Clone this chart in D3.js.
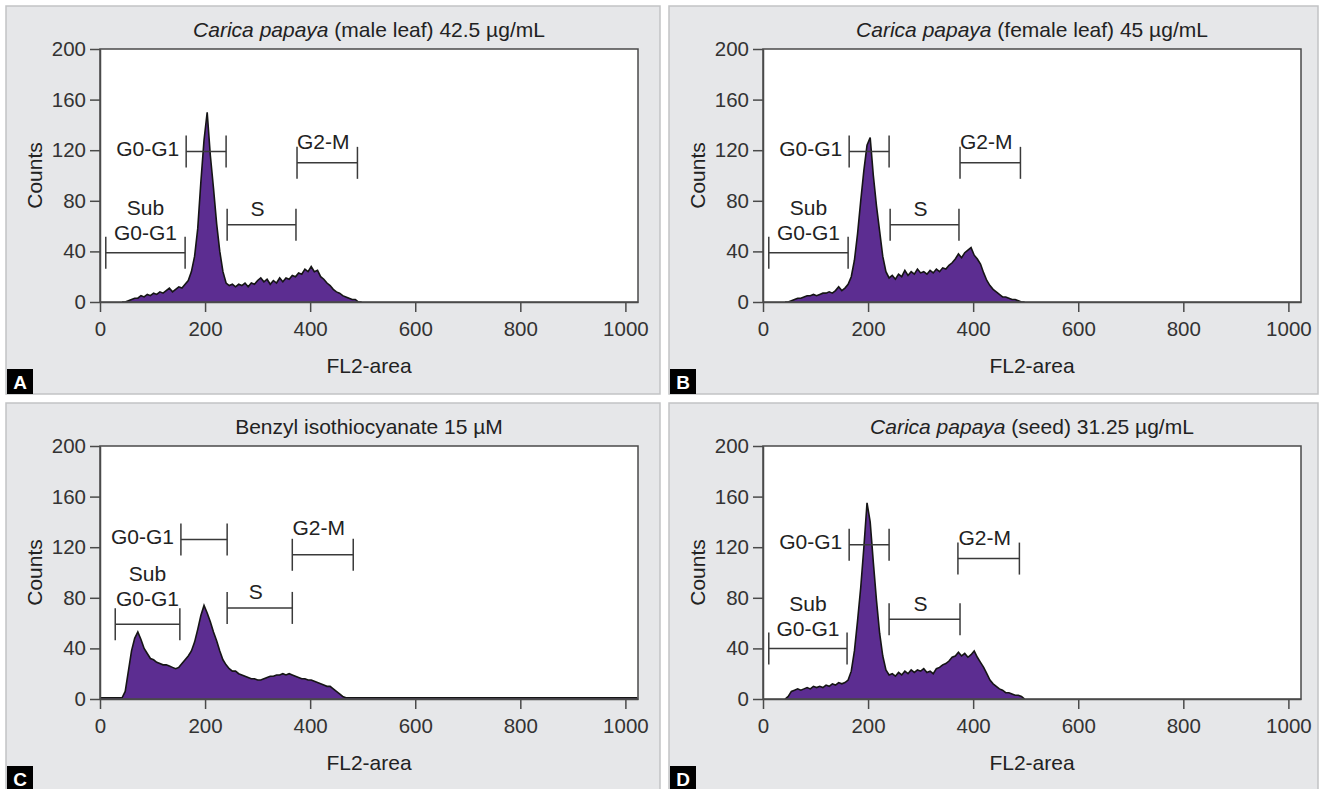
<!DOCTYPE html>
<html>
<head>
<meta charset="utf-8">
<script src="https://cdn.jsdelivr.net/npm/d3@7"></script>
<style>
  body { margin: 0; background: #fff; }
  svg { display: block; font-family: "Liberation Sans", Arial, sans-serif; }
</style>
</head>
<body>
<div id="chart"></div>
<script>
// FL2-area channels (bin centres) that the counts below are read at
var channels = [42, 48, 54, 60, 66, 72, 78, 84, 90, 96, 102, 108, 114, 120, 126, 132, 138, 144, 150, 156, 162,
  168, 174, 180, 186, 192, 198, 204, 210, 216, 222, 228, 234, 240, 246, 252, 258, 264, 270, 276, 282,
  288, 294, 300, 306, 312, 318, 324, 330, 336, 342, 348, 354, 360, 366, 372, 378, 384, 390, 396, 402,
  408, 414, 420, 426, 432, 438, 444, 450, 456, 462, 468, 474, 480, 486, 492, 498];

var countsA = [0, 0, 1, 2, 3, 3, 5, 4, 6, 5, 7, 6, 8, 7, 9, 11, 8, 10, 12, 11, 14,
  17, 24, 36, 58, 95, 128, 150, 116, 90, 62, 40, 24, 15, 13, 14, 12, 14, 13, 15, 12,
  15, 14, 17, 19, 16, 18, 14, 17, 15, 19, 16, 19, 18, 21, 20, 23, 22, 26, 24, 28,
  24, 25, 20, 18, 15, 13, 10, 8, 7, 5, 4, 3, 2, 2, 0, 0];

var countsB = [0, 0, 1, 2, 3, 3, 4, 5, 5, 6, 5, 6, 7, 7, 8, 7, 9, 12, 9, 11, 14,
  20, 33, 54, 80, 104, 124, 130, 100, 76, 56, 36, 24, 19, 21, 18, 22, 20, 25, 21, 24,
  22, 26, 23, 24, 22, 25, 23, 26, 24, 27, 26, 29, 31, 34, 38, 35, 39, 41, 43, 37,
  34, 30, 23, 17, 13, 10, 8, 6, 4, 4, 3, 2, 2, 1, 0, 0];

var countsC = [1, 6, 22, 38, 48, 53, 47, 40, 36, 32, 31, 29, 28, 27, 27, 26, 25, 24, 25, 28, 31,
  34, 38, 45, 55, 66, 74, 68, 61, 53, 46, 38, 31, 27, 24, 22, 22, 20, 19, 18, 17,
  16, 16, 15, 15, 16, 17, 18, 18, 19, 19, 20, 19, 20, 19, 18, 17, 16, 16, 15, 15,
  14, 13, 12, 11, 10, 10, 8, 6, 4, 2, 1, 1, 1, 1, 1, 1];

var countsD = [0, 2, 6, 7, 8, 7, 8, 9, 8, 10, 9, 10, 9, 11, 10, 12, 11, 13, 12, 13, 15,
  22, 38, 62, 88, 120, 155, 140, 108, 78, 52, 34, 23, 19, 20, 18, 21, 19, 22, 20, 23,
  21, 23, 22, 24, 21, 22, 20, 24, 25, 27, 28, 30, 33, 34, 37, 34, 36, 33, 35, 38,
  33, 29, 25, 20, 15, 12, 10, 8, 7, 5, 5, 4, 3, 3, 2, 0];

// background count along the whole axis (only panel C shows one)
var backgroundCounts = [0, 0, 1, 0];

// gates: [from channel, to channel, count level]
var gateNames = [["Sub", "G0-G1"], ["G0-G1"], ["S"], ["G2-M"]];
var gatesA = [[11, 162, 39], [164, 240, 119], [242, 373, 61], [375, 490, 110]];
var gatesB = [[11, 162, 39], [164, 240, 119], [242, 373, 61], [375, 490, 110]];
var gatesC = [[29, 152, 59], [154, 242, 126], [242, 366, 72], [366, 482, 114]];
var gatesD = [[11, 160, 40], [164, 240, 122], [240, 375, 63], [371, 488, 111]];

var panelLetters = ["A", "B", "C", "D"];
var titleItalic = ["Carica papaya", "Carica papaya", "", "Carica papaya"];
var titleRest = [" (male leaf) 42.5 µg/mL", " (female leaf) 45 µg/mL", "Benzyl isothiocyanate 15 µM", " (seed) 31.25 µg/mL"];

var xTicks = [0, 200, 400, 600, 800, 1000];
var yTicks = [0, 40, 80, 120, 160, 200];

var svgWidth = 1321;
var svgHeight = 789;

var boxes = [
  { x: 6, y: 6, w: 654, h: 388 },
  { x: 669, y: 6, w: 649, h: 388 },
  { x: 6, y: 403, w: 654, h: 388 },
  { x: 669, y: 403, w: 649, h: 388 }
];
var margin = { top: 43, left: 94 };
var width = 538;
var height = 253;
var fontSize = "21px";

var allCounts = [countsA, countsB, countsC, countsD];
var allGates = [gatesA, gatesB, gatesC, gatesD];
var labelLift = [0, 0, 6, 0];

var svg = d3.select("#chart")
  .append("svg")
  .attr("width", svgWidth)
  .attr("height", svgHeight);

var xScale = d3.scaleLinear().domain([0, 1024]).range([0, width]);
var yScale = d3.scaleLinear().domain([0, 200]).range([height, 0]);

boxes.forEach(function(box, p) {
  var panel = svg.append("g")
    .attr("transform", `translate(${box.x}, ${box.y})`);

  panel.append("rect")
    .attr("x", 0).attr("y", 0)
    .attr("width", box.w).attr("height", box.h)
    .attr("fill", "#e6e7e9")
    .attr("stroke", "#c2c3c5")
    .attr("stroke-width", 1.5);

  var chartGroup = panel.append("g")
    .attr("transform", `translate(${margin.left}, ${margin.top})`);

  chartGroup.append("rect")
    .attr("width", width).attr("height", height)
    .attr("fill", "#fff");

  // histogram
  var bg = backgroundCounts[p];
  var pts = channels.map(function(c, i) { return [c, Math.max(allCounts[p][i], bg)]; });
  if (bg > 0) {
    pts.unshift([0, bg]);
    pts.push([1023, bg]);
  }

  var clipId = "clip" + p;
  chartGroup.append("clipPath").attr("id", clipId)
    .append("rect").attr("width", width).attr("height", height);

  var area = d3.area()
    .x(d => xScale(d[0]))
    .y0(yScale(0))
    .y1(d => yScale(d[1]));
  var line = d3.line()
    .x(d => xScale(d[0]))
    .y(d => yScale(d[1]));

  chartGroup.append("path")
    .datum(pts)
    .attr("clip-path", `url(#${clipId})`)
    .attr("fill", "#5c2d91")
    .attr("d", area);

  chartGroup.append("path")
    .datum(pts)
    .attr("clip-path", `url(#${clipId})`)
    .attr("fill", "none")
    .attr("stroke", "#151515")
    .attr("stroke-width", 1.6)
    .attr("stroke-linejoin", "miter")
    .attr("d", line);

  // frame
  chartGroup.append("rect")
    .attr("width", width).attr("height", height)
    .attr("fill", "none")
    .attr("stroke", "#4a4a4a")
    .attr("stroke-width", 1.5);

  // axes
  var bottomAxis = d3.axisBottom(xScale).tickValues(xTicks).tickFormat(d3.format("d"))
    .tickSize(10).tickSizeOuter(0).tickPadding(9);
  var leftAxis = d3.axisLeft(yScale).tickValues(yTicks).tickFormat(d3.format("d"))
    .tickSize(10).tickSizeOuter(0).tickPadding(4);

  var gx = chartGroup.append("g")
    .attr("transform", `translate(0, ${height})`)
    .call(bottomAxis);
  var gy = chartGroup.append("g")
    .call(leftAxis);

  [gx, gy].forEach(function(g) {
    g.selectAll("path").attr("stroke", "#4a4a4a").attr("stroke-width", 1.5);
    g.selectAll("line").attr("stroke", "#4a4a4a").attr("stroke-width", 1.5);
    g.selectAll("text")
      .attr("fill", "#333")
      .style("font-size", "20.5px")
      .style("font-family", "'Liberation Sans', Arial, sans-serif");
  });

  // gates
  var lift = labelLift[p];
  allGates[p].forEach(function(gate, k) {
    var x0 = xScale(gate[0]);
    var x1 = xScale(gate[1]);
    var yl = yScale(gate[2]);
    var gg = chartGroup.append("g")
      .attr("stroke", "#3a3a3a")
      .attr("stroke-width", 1.5);
    gg.append("line").attr("x1", x0).attr("x2", x1).attr("y1", yl).attr("y2", yl);
    gg.append("line").attr("x1", x0).attr("x2", x0).attr("y1", yl - 16).attr("y2", yl + 16);
    gg.append("line").attr("x1", x1).attr("x2", x1).attr("y1", yl - 16).attr("y2", yl + 16);

    var names = gateNames[k];
    var label = chartGroup.append("text")
      .attr("fill", "#222")
      .style("font-size", fontSize);
    if (k === 0) {
      label.attr("text-anchor", "middle");
      label.append("tspan").attr("x", (x0 + x1) / 2).attr("y", yl - 37.5 - lift).text(names[0]);
      label.append("tspan").attr("x", (x0 + x1) / 2).attr("y", yl - 12.5 - lift).text(names[1]);
    } else if (k === 1) {
      label.attr("text-anchor", "end")
        .attr("x", x0 - 7)
        .attr("y", yl + 4.5)
        .text(names[0]);
    } else if (k === 2) {
      label.attr("text-anchor", "middle")
        .attr("x", (x0 + x1) / 2 - 4)
        .attr("y", yl - 8.5)
        .text(names[0]);
    } else {
      label.attr("text-anchor", "middle")
        .attr("x", (x0 + x1) / 2 - 4)
        .attr("y", yl - 13.5 - lift)
        .text(names[0]);
    }
  });

  // title
  var title = chartGroup.append("text")
    .attr("x", width / 2)
    .attr("y", -12)
    .attr("text-anchor", "middle")
    .attr("fill", "#222")
    .style("font-size", fontSize);
  if (titleItalic[p]) {
    title.append("tspan").style("font-style", "italic").text(titleItalic[p]);
  }
  title.append("tspan").text(titleRest[p]);

  // axes labels
  chartGroup.append("text")
    .attr("transform", "rotate(-90)")
    .attr("x", -height / 2)
    .attr("y", -58)
    .attr("text-anchor", "middle")
    .attr("fill", "#222")
    .style("font-size", fontSize)
    .text("Counts");

  chartGroup.append("text")
    .attr("x", width / 2)
    .attr("y", height + 70.5)
    .attr("text-anchor", "middle")
    .attr("fill", "#222")
    .style("font-size", fontSize)
    .text("FL2-area");

  // panel letter
  panel.append("rect")
    .attr("x", 1).attr("y", box.h - 25)
    .attr("width", 26).attr("height", 25)
    .attr("fill", "#000");
  panel.append("text")
    .attr("x", 14).attr("y", box.h - 5.5)
    .attr("text-anchor", "middle")
    .attr("fill", "#fff")
    .style("font-size", "19px")
    .style("font-weight", "bold")
    .text(panelLetters[p]);
});
</script>
</body>
</html>
